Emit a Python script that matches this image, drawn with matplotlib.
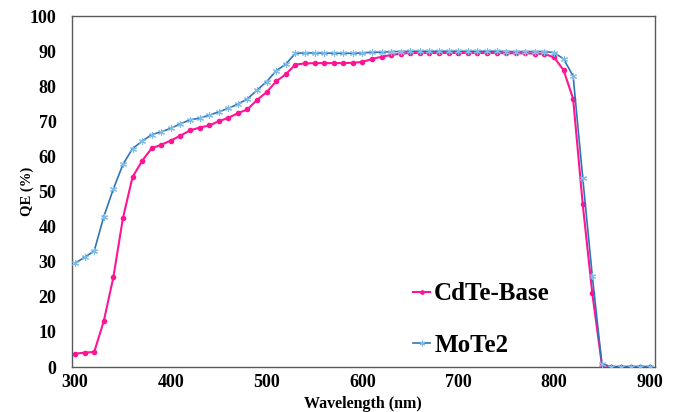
import matplotlib
matplotlib.use('Agg')
import matplotlib.pyplot as plt
import numpy as np

plt.rcParams['font.family'] = ['Liberation Serif', 'DejaVu Serif']
plt.rcParams['font.weight'] = 'bold'

# --- data ---
wavelength = list(range(300, 901, 10))

cdte_base = [3.8, 4.1, 4.3, 13.1, 25.6, 42.5, 54.2, 58.8, 62.4, 63.4,
             64.6, 66.0, 67.5, 68.3, 68.9, 70.1, 71.1, 72.4, 73.5, 76.2,
             78.4, 81.5, 83.5, 86.3, 86.6, 86.7, 86.7, 86.7, 86.7, 86.8,
             87.0, 87.9, 88.5, 89.0, 89.4, 89.6, 89.6, 89.6, 89.6, 89.6,
             89.6, 89.6, 89.6, 89.6, 89.6, 89.5, 89.5, 89.5, 89.4, 89.3,
             88.4, 84.7, 76.5, 46.5, 21.0, 0.7, 0.1, 0.1, 0.1, 0.1, 0.1]

mote2 = [29.6, 31.3, 33.1, 42.9, 50.8, 57.8, 62.3, 64.4, 66.3, 67.1,
         68.1, 69.4, 70.5, 71.0, 71.8, 72.8, 73.8, 75.0, 76.5, 79.0,
         81.4, 84.5, 86.4, 89.5, 89.6, 89.6, 89.6, 89.5, 89.5, 89.5,
         89.6, 89.8, 89.8, 90.0, 90.0, 90.1, 90.1, 90.1, 90.1, 90.1,
         90.1, 90.1, 90.1, 90.1, 90.1, 90.0, 90.0, 90.0, 90.0, 90.0,
         89.7, 87.9, 83.0, 54.0, 26.0, 0.9, 0.0, 0.0, 0.0, 0.0, 0.0]

x_ticks = [300, 400, 500, 600, 700, 800, 900]
y_ticks = list(range(0, 101, 10))

fig = plt.figure(figsize=(6.79, 4.12), dpi=100)
ax = fig.add_axes([0.1056, 0.1092, 0.8591, 0.8508])

ax.plot(wavelength, cdte_base, color='#FF1493', lw=1.5, marker='o', ms=3.0,
        mec='#FF1493', mfc='#FF1493', label='CdTe-Base', zorder=2)
ax.plot(wavelength, mote2, color='#2E75B6', lw=1.2, marker=(6, 2, 0), ms=5,
        mec='#7DBBE8', mew=0.8, label='MoTe2', zorder=3)

ax.set_xlim(296.5, 905.5)
ax.set_ylim(0, 100)
ax.set_xticks(x_ticks)
ax.set_yticks(y_ticks)
ax.tick_params(axis='y', length=0, labelsize=13, pad=11)
ax.tick_params(axis='x', length=0, labelsize=13, pad=5)
for lbl in ax.get_xticklabels() + ax.get_yticklabels():
    lbl.set_fontweight('bold')

for s in ax.spines.values():
    s.set_color('#595959')
    s.set_linewidth(1.0)

ax.set_xlabel('Wavelength (nm)', fontsize=11.5, fontweight='bold', labelpad=3.5)
ax.set_ylabel('QE (%)', fontsize=10.5, fontweight='bold', labelpad=-3)

leg = ax.legend(loc='center left', bbox_to_anchor=(0.585, 0.135), frameon=False,
                prop={'family': 'Liberation Serif', 'weight': 'bold', 'size': 18},
                handlelength=0.7, handletextpad=0.15, labelspacing=1.15,
                borderpad=0, borderaxespad=0, markerscale=0.8)

fig.savefig('out.png', dpi=100)
